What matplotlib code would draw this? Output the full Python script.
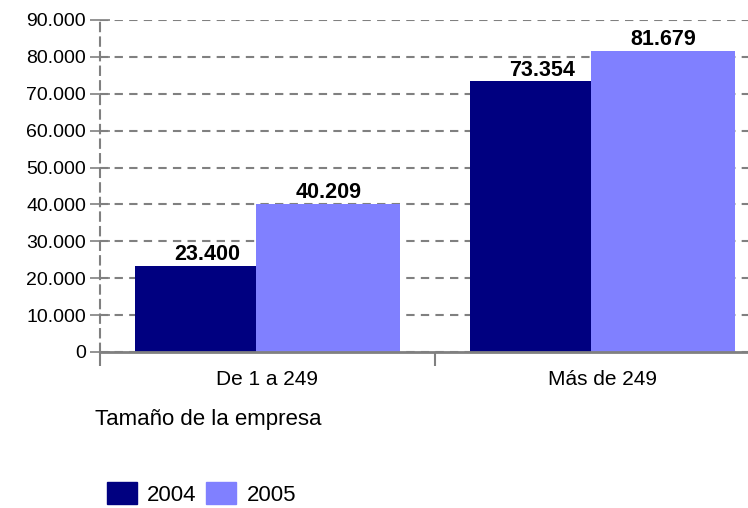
import matplotlib
matplotlib.use('Agg')
import matplotlib.pyplot as plt
from matplotlib.patches import Patch
from matplotlib.ticker import FuncFormatter

plt.rcParams['font.family'] = ['Liberation Sans', 'DejaVu Sans']

categories = ['De 1 a 249', 'Más de 249']
years = ['2004', '2005']
values_2004 = [23400, 73354]
values_2005 = [40209, 81679]
yticks = list(range(0, 90001, 10000))

color_2004 = '#000080'
color_2005 = '#8080FF'
grid_color = '#808080'

W, H = 748, 508
fig = plt.figure(figsize=(W / 100, H / 100), dpi=100)
ax = fig.add_axes([100 / W, 156 / H, 670 / W, 332 / H])

# bar geometry in category units (category width = 1)
left_2004 = 0.105
w_2004 = 0.362
w_2005 = 0.429


def fmt(v):
    return f'{int(v):,}'.replace(',', '.')


for i in range(len(categories)):
    x0 = i + left_2004
    ax.bar(x0, values_2004[i], width=w_2004, align='edge', color=color_2004, zorder=3)
    ax.bar(x0 + w_2004, values_2005[i], width=w_2005, align='edge', color=color_2005, zorder=3)
    ax.text(x0 + w_2005 / 2, values_2004[i] + 200, fmt(values_2004[i]),
            ha='center', va='bottom', fontsize=15.5, fontweight='bold', zorder=4)
    ax.text(x0 + w_2004 + w_2005 / 2, values_2005[i] + 200, fmt(values_2005[i]),
            ha='center', va='bottom', fontsize=15.5, fontweight='bold', zorder=4)

ax.set_xlim(0, len(categories))
ax.set_ylim(0, 90000)
ax.set_yticks(yticks)
ax.yaxis.set_major_formatter(FuncFormatter(lambda v, p: fmt(v)))
ax.yaxis.grid(True, color=grid_color, linestyle=(0, (4, 3)), linewidth=1.5, zorder=1)

ax.set_xticks([0.5, 1.5])
ax.set_xticklabels(categories)
ax.set_xticks([0, 1, 2], minor=True)
ax.tick_params(axis='x', which='major', length=0, pad=13, labelsize=15)
ax.tick_params(axis='x', which='minor', length=10, width=1.5, color=grid_color)
ax.tick_params(axis='y', direction='inout', length=14, width=1.2, color=grid_color,
               labelsize=14, pad=3)

for s in ['top', 'right']:
    ax.spines[s].set_visible(False)
ax.spines['left'].set_color(grid_color)
ax.spines['left'].set_linestyle((0, (4, 3)))
ax.spines['left'].set_linewidth(1.5)
ax.spines['bottom'].set_color(grid_color)
ax.spines['bottom'].set_linewidth(2)
ax.spines['bottom'].set_zorder(4)

fig.text(95 / W, 1 - 420 / H, 'Tamaño de la empresa', fontsize=16, va='center', ha='left')

handles = [Patch(color=color_2004), Patch(color=color_2005)]
fig.legend(handles, years, loc='center left', bbox_to_anchor=(98 / W, 1 - 494 / H),
           ncol=2, frameon=False, fontsize=16, handlelength=1.35, handleheight=1.15,
           handletextpad=0.45, columnspacing=0.45, borderaxespad=0)

fig.savefig('out.png', dpi=100)
